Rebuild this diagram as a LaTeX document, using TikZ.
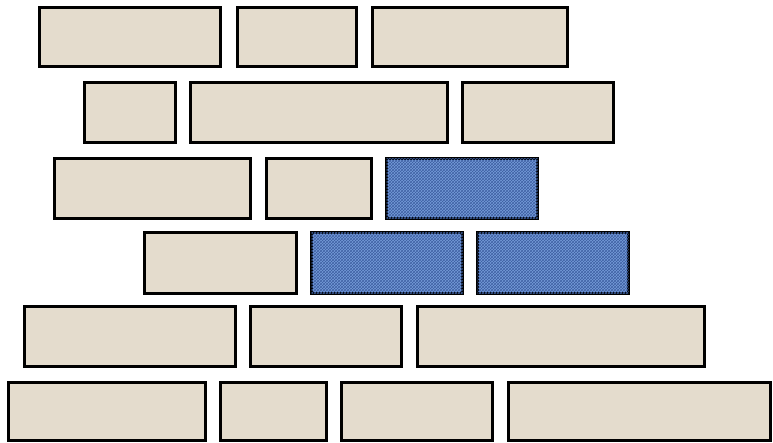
\documentclass[tikz,border=0pt]{standalone}
\usetikzlibrary{patterns}
\definecolor{sand}{RGB}{228,220,205}
\definecolor{denim}{RGB}{118,156,218}
\definecolor{denimdark}{RGB}{62,96,162}
\tikzset{
  brick/.style={draw=black, line width=3pt, fill=sand},
  bluebrick/.style={brick, fill=denim, postaction={pattern=crosshatch, pattern color=denimdark}}
}
\begin{document}
\begin{tikzpicture}[x=1pt, y=-1pt]
  \useasboundingbox (0,0) rectangle (773,443);
  % row 1
  \foreach \a/\b in {38/222, 236/358, 371/569}
    \draw[brick] (\a+1.5,7.5) rectangle (\b-1.5,66.5);
  % row 2
  \foreach \a/\b in {83/177, 189/449, 461/615}
    \draw[brick] (\a+1.5,82.5) rectangle (\b-1.5,142.5);
  % row 3
  \foreach \a/\b in {53/252, 265/373}
    \draw[brick] (\a+1.5,158.5) rectangle (\b-1.5,218.5);
  \draw[bluebrick] (386.5,158.5) rectangle (537.5,218.5);
  % row 4
  \draw[brick] (144.5,232.5) rectangle (296.5,293.5);
  \foreach \a/\b in {310/464, 476/630}
    \draw[bluebrick] (\a+1.5,232.5) rectangle (\b-1.5,293.5);
  % row 5
  \foreach \a/\b in {23/237, 249/403, 416/706}
    \draw[brick] (\a+1.5,306.5) rectangle (\b-1.5,366.5);
  % row 6
  \foreach \a/\b in {7/207, 219/328, 340/494, 507/772}
    \draw[brick] (\a+1.5,382.5) rectangle (\b-1.5,440.5);
\end{tikzpicture}
\end{document}
